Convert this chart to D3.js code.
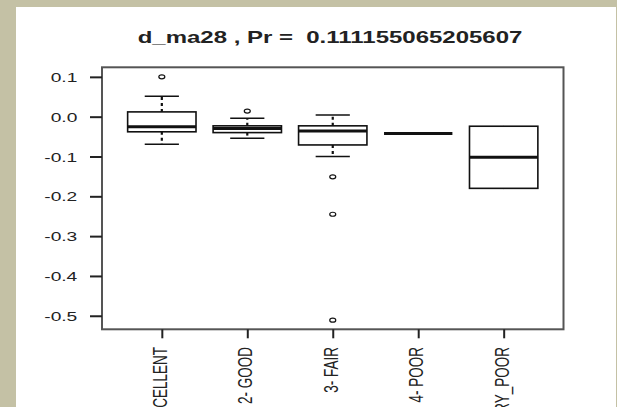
<!DOCTYPE html>
<html>
<head>
<meta charset="utf-8">
<script src="https://cdn.jsdelivr.net/npm/d3@7"></script>
<style>
  body { margin: 0; background: #c4c1a5; }
  svg { display: block; }
  text { font-family: "Liberation Sans", Arial, sans-serif; fill: #222; }
</style>
</head>
<body>
<svg id="chart" width="617" height="407"></svg>
<script>
// values
const categories = ["1- EXCELLENT", "2- GOOD", "3- FAIR", "4- POOR", "5- VERY_POOR"];
const lowerWhisker = [-0.069, -0.054, -0.1, -0.042, -0.18];
const q1 = [-0.038, -0.04, -0.071, -0.042, -0.18];
const median = [-0.025, -0.03, -0.036, -0.042, -0.102];
const q3 = [0.012, -0.023, -0.023, -0.042, -0.024];
const upperWhisker = [0.051, -0.004, 0.004, -0.042, -0.024];
const outliers = [[0.1], [0.014], [-0.151, -0.245, -0.511], [], []];
const yTicks = [0.1, 0, -0.1, -0.2, -0.3, -0.4, -0.5];
const title = "d_ma28 , Pr =  0.111155065205607";

const svg = d3.select("#chart");
const stretch = 1.5; // the picture is stretched sideways

const plot = { left: 102, right: 563.5, top: 67.3, bottom: 329.3 };

// white page area
svg.append("rect")
  .attr("x", 16).attr("y", 7)
  .attr("width", 600).attr("height", 400)
  .attr("fill", "#ffffff");

const x = d3.scaleLinear().domain([0.3, 5.7]).range([plot.left, plot.right]);
const y = d3.scaleLinear().domain([-0.534, 0.124]).range([plot.bottom, plot.top]);

const boxW = x(1.4) - x(1);   // half of 0.8 boxwex
const capW = boxW / 2;

const data = categories.map((c, i) => ({
  cat: c, i: i + 1,
  lo: lowerWhisker[i], q1: q1[i], med: median[i], q3: q3[i], hi: upperWhisker[i],
  out: outliers[i]
}));

const g = svg.append("g").attr("stroke", "#111").attr("fill", "none");

// whiskers (dashed)
data.forEach(d => {
  g.append("line")
    .attr("x1", x(d.i)).attr("x2", x(d.i))
    .attr("y1", y(d.q3)).attr("y2", y(d.hi))
    .attr("stroke-width", 2.2).attr("stroke-dasharray", "3,3");
  g.append("line")
    .attr("x1", x(d.i)).attr("x2", x(d.i))
    .attr("y1", y(d.q1)).attr("y2", y(d.lo))
    .attr("stroke-width", 2.2).attr("stroke-dasharray", "3,3");
  if (d.hi !== d.q3) {
    g.append("line")
      .attr("x1", x(d.i) - capW).attr("x2", x(d.i) + capW)
      .attr("y1", y(d.hi)).attr("y2", y(d.hi))
      .attr("stroke-width", 1.5);
  }
  if (d.lo !== d.q1) {
    g.append("line")
      .attr("x1", x(d.i) - capW).attr("x2", x(d.i) + capW)
      .attr("y1", y(d.lo)).attr("y2", y(d.lo))
      .attr("stroke-width", 1.5);
  }
});

// boxes
g.selectAll("rect.box")
  .data(data)
  .enter().append("rect")
  .attr("class", "box")
  .attr("x", d => x(d.i) - boxW)
  .attr("y", d => y(d.q3))
  .attr("width", boxW * 2)
  .attr("height", d => Math.max(0, y(d.q1) - y(d.q3)))
  .attr("fill", "#fff")
  .attr("stroke-width", 1.6);

// medians
g.selectAll("line.med")
  .data(data)
  .enter().append("line")
  .attr("class", "med")
  .attr("x1", d => x(d.i) - boxW)
  .attr("x2", d => x(d.i) + boxW)
  .attr("y1", d => y(d.med))
  .attr("y2", d => y(d.med))
  .attr("stroke-width", 3);

// outliers
const outPts = [];
data.forEach(d => d.out.forEach(v => outPts.push({ i: d.i, v: v })));
g.selectAll("ellipse.out")
  .data(outPts)
  .enter().append("ellipse")
  .attr("class", "out")
  .attr("cx", d => x(d.i))
  .attr("cy", d => y(d.v))
  .attr("rx", 3).attr("ry", 2)
  .attr("stroke-width", 1.2);

// frame
svg.append("rect")
  .attr("x", plot.left).attr("y", plot.top)
  .attr("width", plot.right - plot.left)
  .attr("height", plot.bottom - plot.top)
  .attr("fill", "none")
  .attr("stroke", "#555")
  .attr("stroke-width", 2);

// y axis
const yAxis = svg.append("g")
  .attr("transform", `translate(${plot.left},0)`)
  .call(d3.axisLeft(y).tickValues(yTicks).tickSize(12).tickPadding(0)
    .tickFormat(d => d.toFixed(1)));
yAxis.select(".domain").remove();
yAxis.selectAll(".tick line").attr("stroke", "#222").attr("stroke-width", 2);
yAxis.selectAll(".tick text")
  .attr("x", null).attr("dy", null)
  .attr("transform", `translate(-24.7,4.6) scale(${stretch},1)`)
  .attr("text-anchor", "end")
  .style("font-size", "12.8px")
  .style("font-family", "'Liberation Sans', Arial, sans-serif")
  .attr("fill", "#222");

// x axis
const xAxis = svg.append("g")
  .attr("transform", `translate(0,${plot.bottom})`)
  .call(d3.axisBottom(x).tickValues(d3.range(1, categories.length + 1))
    .tickSize(9).tickFormat(""));
xAxis.select(".domain").remove();
xAxis.selectAll(".tick line").attr("stroke", "#222").attr("stroke-width", 2);

svg.append("g").selectAll("text.xl")
  .data(data)
  .enter().append("text")
  .attr("class", "xl")
  .attr("transform", d => `translate(${x(d.i) - 2},347) scale(${stretch},1) rotate(-90)`)
  .attr("text-anchor", "end")
  .attr("dy", "0.35em")
  .style("font-size", "13.5px")
  .style("white-space", "pre")
  .text(d => d.cat);

// title
svg.append("text")
  .attr("transform", `translate(330,43) scale(${stretch},1)`)
  .attr("text-anchor", "middle")
  .style("font-size", "16px")
  .style("font-weight", "bold")
  .style("white-space", "pre")
  .text(title);
</script>
</body>
</html>
